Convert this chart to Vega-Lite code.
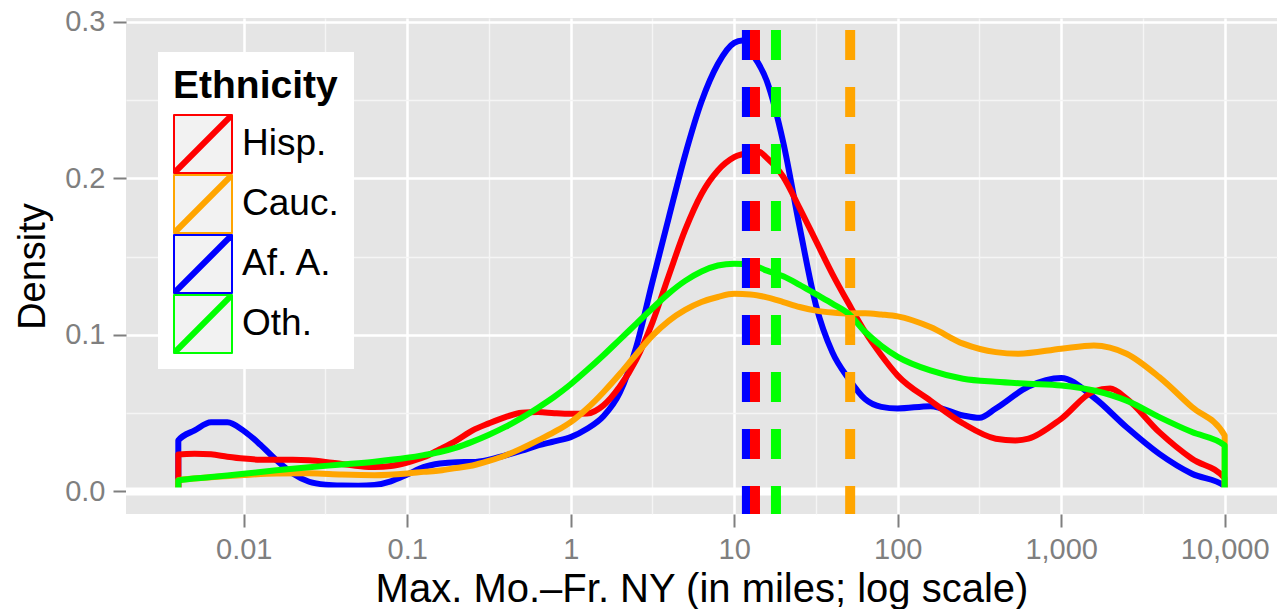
{
  "$schema": "https://vega.github.io/schema/vega-lite/v6.json",
  "width": 1151,
  "height": 496,
  "autosize": {"type": "none"},
  "padding": {"left": 126, "top": 18, "right": 1, "bottom": 95},
  "background": "white",
  "config": {
    "font": "Liberation Sans",
    "view": {"fill": "#E5E5E5", "stroke": null}
  },
  "datasets": {
    "curves": [
      {"eth": "Af. A.", "miles": 0.00398, "density": 0},
      {"eth": "Af. A.", "miles": 0.00398, "density": 0.0326},
      {"eth": "Af. A.", "miles": 0.00501, "density": 0.039},
      {"eth": "Af. A.", "miles": 0.00631, "density": 0.0442},
      {"eth": "Af. A.", "miles": 0.00794, "density": 0.0442},
      {"eth": "Af. A.", "miles": 0.01, "density": 0.0387},
      {"eth": "Af. A.", "miles": 0.01259, "density": 0.030},
      {"eth": "Af. A.", "miles": 0.01585, "density": 0.020},
      {"eth": "Af. A.", "miles": 0.01995, "density": 0.0115},
      {"eth": "Af. A.", "miles": 0.02512, "density": 0.0062},
      {"eth": "Af. A.", "miles": 0.03162, "density": 0.0043},
      {"eth": "Af. A.", "miles": 0.03981, "density": 0.0038},
      {"eth": "Af. A.", "miles": 0.05012, "density": 0.0037},
      {"eth": "Af. A.", "miles": 0.0631, "density": 0.0042},
      {"eth": "Af. A.", "miles": 0.07943, "density": 0.0065},
      {"eth": "Af. A.", "miles": 0.1, "density": 0.0108},
      {"eth": "Af. A.", "miles": 0.1259, "density": 0.0155},
      {"eth": "Af. A.", "miles": 0.1585, "density": 0.0178},
      {"eth": "Af. A.", "miles": 0.1995, "density": 0.0187},
      {"eth": "Af. A.", "miles": 0.2512, "density": 0.0188},
      {"eth": "Af. A.", "miles": 0.3162, "density": 0.0203},
      {"eth": "Af. A.", "miles": 0.3981, "density": 0.023},
      {"eth": "Af. A.", "miles": 0.5012, "density": 0.026},
      {"eth": "Af. A.", "miles": 0.631, "density": 0.0294},
      {"eth": "Af. A.", "miles": 0.7943, "density": 0.032},
      {"eth": "Af. A.", "miles": 1, "density": 0.0347},
      {"eth": "Af. A.", "miles": 1.259, "density": 0.040},
      {"eth": "Af. A.", "miles": 1.585, "density": 0.048},
      {"eth": "Af. A.", "miles": 1.995, "density": 0.063},
      {"eth": "Af. A.", "miles": 2.512, "density": 0.092},
      {"eth": "Af. A.", "miles": 3.162, "density": 0.134},
      {"eth": "Af. A.", "miles": 3.981, "density": 0.175},
      {"eth": "Af. A.", "miles": 5.012, "density": 0.215},
      {"eth": "Af. A.", "miles": 6.31, "density": 0.249},
      {"eth": "Af. A.", "miles": 7.943, "density": 0.273},
      {"eth": "Af. A.", "miles": 10, "density": 0.2865},
      {"eth": "Af. A.", "miles": 11.22, "density": 0.288},
      {"eth": "Af. A.", "miles": 12.59, "density": 0.281},
      {"eth": "Af. A.", "miles": 15.85, "density": 0.262},
      {"eth": "Af. A.", "miles": 19.95, "density": 0.223},
      {"eth": "Af. A.", "miles": 25.12, "density": 0.169},
      {"eth": "Af. A.", "miles": 31.62, "density": 0.119},
      {"eth": "Af. A.", "miles": 39.81, "density": 0.089},
      {"eth": "Af. A.", "miles": 50.12, "density": 0.072},
      {"eth": "Af. A.", "miles": 63.1, "density": 0.059},
      {"eth": "Af. A.", "miles": 79.43, "density": 0.054},
      {"eth": "Af. A.", "miles": 100, "density": 0.053},
      {"eth": "Af. A.", "miles": 158.5, "density": 0.0545},
      {"eth": "Af. A.", "miles": 251.2, "density": 0.0485},
      {"eth": "Af. A.", "miles": 316.2, "density": 0.047},
      {"eth": "Af. A.", "miles": 398.1, "density": 0.053},
      {"eth": "Af. A.", "miles": 631, "density": 0.067},
      {"eth": "Af. A.", "miles": 1000, "density": 0.0725},
      {"eth": "Af. A.", "miles": 1585, "density": 0.060},
      {"eth": "Af. A.", "miles": 2512, "density": 0.041},
      {"eth": "Af. A.", "miles": 3981, "density": 0.024},
      {"eth": "Af. A.", "miles": 6310, "density": 0.0113},
      {"eth": "Af. A.", "miles": 10000, "density": 0.0035},
      {"eth": "Af. A.", "miles": 10000, "density": 0},

      {"eth": "Hisp.", "miles": 0.00398, "density": 0},
      {"eth": "Hisp.", "miles": 0.00398, "density": 0.0236},
      {"eth": "Hisp.", "miles": 0.00501, "density": 0.0241},
      {"eth": "Hisp.", "miles": 0.00631, "density": 0.0237},
      {"eth": "Hisp.", "miles": 0.00794, "density": 0.0222},
      {"eth": "Hisp.", "miles": 0.01, "density": 0.0210},
      {"eth": "Hisp.", "miles": 0.01259, "density": 0.0203},
      {"eth": "Hisp.", "miles": 0.01585, "density": 0.0202},
      {"eth": "Hisp.", "miles": 0.01995, "density": 0.0202},
      {"eth": "Hisp.", "miles": 0.02512, "density": 0.0199},
      {"eth": "Hisp.", "miles": 0.03162, "density": 0.0189},
      {"eth": "Hisp.", "miles": 0.03981, "density": 0.0175},
      {"eth": "Hisp.", "miles": 0.05012, "density": 0.0163},
      {"eth": "Hisp.", "miles": 0.0631, "density": 0.0156},
      {"eth": "Hisp.", "miles": 0.07943, "density": 0.0163},
      {"eth": "Hisp.", "miles": 0.1, "density": 0.0185},
      {"eth": "Hisp.", "miles": 0.1259, "density": 0.0218},
      {"eth": "Hisp.", "miles": 0.1585, "density": 0.0270},
      {"eth": "Hisp.", "miles": 0.1995, "density": 0.0325},
      {"eth": "Hisp.", "miles": 0.2512, "density": 0.039},
      {"eth": "Hisp.", "miles": 0.3162, "density": 0.0435},
      {"eth": "Hisp.", "miles": 0.3981, "density": 0.0475},
      {"eth": "Hisp.", "miles": 0.5012, "density": 0.0503},
      {"eth": "Hisp.", "miles": 0.631, "density": 0.0507},
      {"eth": "Hisp.", "miles": 0.7943, "density": 0.0500},
      {"eth": "Hisp.", "miles": 1, "density": 0.0496},
      {"eth": "Hisp.", "miles": 1.259, "density": 0.0498},
      {"eth": "Hisp.", "miles": 1.585, "density": 0.055},
      {"eth": "Hisp.", "miles": 1.995, "density": 0.067},
      {"eth": "Hisp.", "miles": 2.512, "density": 0.084},
      {"eth": "Hisp.", "miles": 3.162, "density": 0.108},
      {"eth": "Hisp.", "miles": 3.981, "density": 0.138},
      {"eth": "Hisp.", "miles": 5.012, "density": 0.167},
      {"eth": "Hisp.", "miles": 6.31, "density": 0.190},
      {"eth": "Hisp.", "miles": 7.943, "density": 0.205},
      {"eth": "Hisp.", "miles": 10, "density": 0.2135},
      {"eth": "Hisp.", "miles": 12.59, "density": 0.2165},
      {"eth": "Hisp.", "miles": 14.13, "density": 0.217},
      {"eth": "Hisp.", "miles": 15.85, "density": 0.213},
      {"eth": "Hisp.", "miles": 19.95, "density": 0.201},
      {"eth": "Hisp.", "miles": 25.12, "density": 0.181},
      {"eth": "Hisp.", "miles": 31.62, "density": 0.160},
      {"eth": "Hisp.", "miles": 39.81, "density": 0.139},
      {"eth": "Hisp.", "miles": 50.12, "density": 0.120},
      {"eth": "Hisp.", "miles": 63.1, "density": 0.102},
      {"eth": "Hisp.", "miles": 79.43, "density": 0.087},
      {"eth": "Hisp.", "miles": 100, "density": 0.074},
      {"eth": "Hisp.", "miles": 158.5, "density": 0.058},
      {"eth": "Hisp.", "miles": 251.2, "density": 0.0434},
      {"eth": "Hisp.", "miles": 398.1, "density": 0.0337},
      {"eth": "Hisp.", "miles": 524.8, "density": 0.0326},
      {"eth": "Hisp.", "miles": 631, "density": 0.0337},
      {"eth": "Hisp.", "miles": 1000, "density": 0.0464},
      {"eth": "Hisp.", "miles": 1585, "density": 0.064},
      {"eth": "Hisp.", "miles": 1995, "density": 0.0657},
      {"eth": "Hisp.", "miles": 2512, "density": 0.0593},
      {"eth": "Hisp.", "miles": 3981, "density": 0.0379},
      {"eth": "Hisp.", "miles": 6310, "density": 0.0209},
      {"eth": "Hisp.", "miles": 10000, "density": 0.0085},
      {"eth": "Hisp.", "miles": 10000, "density": 0},

      {"eth": "Cauc.", "miles": 0.00398, "density": 0},
      {"eth": "Cauc.", "miles": 0.00398, "density": 0.0072},
      {"eth": "Cauc.", "miles": 0.00631, "density": 0.009},
      {"eth": "Cauc.", "miles": 0.01, "density": 0.0105},
      {"eth": "Cauc.", "miles": 0.01585, "density": 0.0115},
      {"eth": "Cauc.", "miles": 0.02512, "density": 0.0116},
      {"eth": "Cauc.", "miles": 0.03981, "density": 0.0108},
      {"eth": "Cauc.", "miles": 0.0631, "density": 0.0104},
      {"eth": "Cauc.", "miles": 0.1, "density": 0.0115},
      {"eth": "Cauc.", "miles": 0.1259, "density": 0.0125},
      {"eth": "Cauc.", "miles": 0.1585, "density": 0.0134},
      {"eth": "Cauc.", "miles": 0.1995, "density": 0.0150},
      {"eth": "Cauc.", "miles": 0.2512, "density": 0.0166},
      {"eth": "Cauc.", "miles": 0.3162, "density": 0.0195},
      {"eth": "Cauc.", "miles": 0.3981, "density": 0.023},
      {"eth": "Cauc.", "miles": 0.5012, "density": 0.0275},
      {"eth": "Cauc.", "miles": 0.631, "density": 0.0326},
      {"eth": "Cauc.", "miles": 0.7943, "density": 0.038},
      {"eth": "Cauc.", "miles": 1, "density": 0.0443},
      {"eth": "Cauc.", "miles": 1.259, "density": 0.053},
      {"eth": "Cauc.", "miles": 1.585, "density": 0.0634},
      {"eth": "Cauc.", "miles": 1.995, "density": 0.075},
      {"eth": "Cauc.", "miles": 2.512, "density": 0.0875},
      {"eth": "Cauc.", "miles": 3.162, "density": 0.0995},
      {"eth": "Cauc.", "miles": 3.981, "density": 0.109},
      {"eth": "Cauc.", "miles": 5.012, "density": 0.116},
      {"eth": "Cauc.", "miles": 6.31, "density": 0.121},
      {"eth": "Cauc.", "miles": 7.943, "density": 0.1242},
      {"eth": "Cauc.", "miles": 10, "density": 0.1262},
      {"eth": "Cauc.", "miles": 12.59, "density": 0.1258},
      {"eth": "Cauc.", "miles": 15.85, "density": 0.124},
      {"eth": "Cauc.", "miles": 19.95, "density": 0.121},
      {"eth": "Cauc.", "miles": 25.12, "density": 0.1178},
      {"eth": "Cauc.", "miles": 31.62, "density": 0.1155},
      {"eth": "Cauc.", "miles": 39.81, "density": 0.1143},
      {"eth": "Cauc.", "miles": 50.12, "density": 0.1137},
      {"eth": "Cauc.", "miles": 63.1, "density": 0.1138},
      {"eth": "Cauc.", "miles": 79.43, "density": 0.1130},
      {"eth": "Cauc.", "miles": 100, "density": 0.1118},
      {"eth": "Cauc.", "miles": 158.5, "density": 0.105},
      {"eth": "Cauc.", "miles": 251.2, "density": 0.0944},
      {"eth": "Cauc.", "miles": 398.1, "density": 0.089},
      {"eth": "Cauc.", "miles": 549.5, "density": 0.088},
      {"eth": "Cauc.", "miles": 1000, "density": 0.0912},
      {"eth": "Cauc.", "miles": 1585, "density": 0.0933},
      {"eth": "Cauc.", "miles": 2512, "density": 0.088},
      {"eth": "Cauc.", "miles": 3981, "density": 0.073},
      {"eth": "Cauc.", "miles": 6310, "density": 0.0539},
      {"eth": "Cauc.", "miles": 10000, "density": 0.0358},
      {"eth": "Cauc.", "miles": 10000, "density": 0},

      {"eth": "Oth.", "miles": 0.00398, "density": 0},
      {"eth": "Oth.", "miles": 0.00398, "density": 0.0070},
      {"eth": "Oth.", "miles": 0.00631, "density": 0.0092},
      {"eth": "Oth.", "miles": 0.01, "density": 0.0113},
      {"eth": "Oth.", "miles": 0.01585, "density": 0.0135},
      {"eth": "Oth.", "miles": 0.02512, "density": 0.0155},
      {"eth": "Oth.", "miles": 0.03981, "density": 0.0172},
      {"eth": "Oth.", "miles": 0.0631, "density": 0.0190},
      {"eth": "Oth.", "miles": 0.1, "density": 0.0215},
      {"eth": "Oth.", "miles": 0.1259, "density": 0.0232},
      {"eth": "Oth.", "miles": 0.1585, "density": 0.0252},
      {"eth": "Oth.", "miles": 0.1995, "density": 0.0280},
      {"eth": "Oth.", "miles": 0.2512, "density": 0.0318},
      {"eth": "Oth.", "miles": 0.3162, "density": 0.0362},
      {"eth": "Oth.", "miles": 0.3981, "density": 0.0412},
      {"eth": "Oth.", "miles": 0.5012, "density": 0.047},
      {"eth": "Oth.", "miles": 0.631, "density": 0.0535},
      {"eth": "Oth.", "miles": 0.7943, "density": 0.0605},
      {"eth": "Oth.", "miles": 1, "density": 0.0685},
      {"eth": "Oth.", "miles": 1.259, "density": 0.0775},
      {"eth": "Oth.", "miles": 1.585, "density": 0.087},
      {"eth": "Oth.", "miles": 1.995, "density": 0.097},
      {"eth": "Oth.", "miles": 2.512, "density": 0.107},
      {"eth": "Oth.", "miles": 3.162, "density": 0.117},
      {"eth": "Oth.", "miles": 3.981, "density": 0.1265},
      {"eth": "Oth.", "miles": 5.012, "density": 0.1345},
      {"eth": "Oth.", "miles": 6.31, "density": 0.1405},
      {"eth": "Oth.", "miles": 7.943, "density": 0.1443},
      {"eth": "Oth.", "miles": 10, "density": 0.1455},
      {"eth": "Oth.", "miles": 12.59, "density": 0.145},
      {"eth": "Oth.", "miles": 15.85, "density": 0.141},
      {"eth": "Oth.", "miles": 19.95, "density": 0.1375},
      {"eth": "Oth.", "miles": 25.12, "density": 0.132},
      {"eth": "Oth.", "miles": 31.62, "density": 0.126},
      {"eth": "Oth.", "miles": 39.81, "density": 0.120},
      {"eth": "Oth.", "miles": 50.12, "density": 0.1135},
      {"eth": "Oth.", "miles": 63.1, "density": 0.102},
      {"eth": "Oth.", "miles": 79.43, "density": 0.093},
      {"eth": "Oth.", "miles": 100, "density": 0.086},
      {"eth": "Oth.", "miles": 158.5, "density": 0.0773},
      {"eth": "Oth.", "miles": 251.2, "density": 0.072},
      {"eth": "Oth.", "miles": 398.1, "density": 0.070},
      {"eth": "Oth.", "miles": 631, "density": 0.0688},
      {"eth": "Oth.", "miles": 1000, "density": 0.0677},
      {"eth": "Oth.", "miles": 1585, "density": 0.0645},
      {"eth": "Oth.", "miles": 2512, "density": 0.058},
      {"eth": "Oth.", "miles": 3981, "density": 0.0475},
      {"eth": "Oth.", "miles": 6310, "density": 0.0379},
      {"eth": "Oth.", "miles": 10000, "density": 0.0294},
      {"eth": "Oth.", "miles": 10000, "density": 0}
    ],
    "medians": [
      {"eth": "Af. A.", "miles": 11.96},
      {"eth": "Hisp.", "miles": 13.4},
      {"eth": "Oth.", "miles": 18.0},
      {"eth": "Cauc.", "miles": 51.2}
    ],
    "baseline": [
      {"density": 0}
    ]
  },
  "layer": [
    {
      "data": {"name": "curves"},
      "mark": {"type": "line", "interpolate": "monotone", "strokeWidth": 6, "strokeJoin": "round"},
      "encoding": {
        "x": {
          "field": "miles", "type": "quantitative",
          "scale": {"type": "log", "domain": [0.001905, 20893], "nice": false},
          "axis": {
            "orient": "bottom",
            "values": [0.01, 0.1, 1, 10, 100, 1000, 10000],
            "format": ",",
            "title": "Max. Mo.–Fr. NY (in miles; log scale)",
            "grid": true, "gridColor": "white", "gridWidth": 2.5,
            "domain": false,
            "ticks": true, "tickColor": "#7F7F7F", "tickSize": 13, "tickWidth": 2,
            "labels": true,
            "labelFont": "Liberation Sans", "labelFontSize": 29, "labelColor": "#7F7F7F", "labelPadding": 8,
            "labelFlush": false, "labelOverlap": false,
            "titleFont": "Liberation Sans", "titleFontSize": 40, "titleFontWeight": "normal", "titleColor": "black",
            "titleBaseline": "alphabetic", "titleY": 87
          }
        },
        "y": {
          "field": "density", "type": "quantitative",
          "scale": {"domain": [-0.0144, 0.3024], "nice": false, "zero": false},
          "axis": {
            "orient": "left",
            "values": [0, 0.1, 0.2, 0.3],
            "format": ".1f",
            "title": "Density",
            "grid": true, "gridColor": "white", "gridWidth": 2.5,
            "domain": false,
            "ticks": true, "tickColor": "#7F7F7F", "tickSize": 13, "tickWidth": 2,
            "labels": true,
            "labelFont": "Liberation Sans", "labelFontSize": 29, "labelColor": "#7F7F7F", "labelPadding": 8,
            "labelFlush": false, "labelOverlap": false,
            "titleFont": "Liberation Sans", "titleFontSize": 38, "titleFontWeight": "normal", "titleColor": "black",
            "titleBaseline": "alphabetic", "titleX": -82
          }
        },
        "color": {
          "field": "eth", "type": "nominal",
          "scale": {"domain": ["Hisp.", "Cauc.", "Af. A.", "Oth."], "range": ["#FF0000", "#FFA500", "#0000FF", "#00FF00"]},
          "legend": {
            "title": "Ethnicity",
            "orient": "none", "legendX": 32, "legendY": 34,
            "padding": 15, "fillColor": "white", "strokeColor": null,
            "titleFont": "Liberation Sans", "titleFontSize": 39, "titleFontWeight": "bold", "titleColor": "black", "titlePadding": 8,
            "labelFont": "Liberation Sans", "labelFontSize": 37, "labelColor": "black", "labelOffset": 9,
            "symbolType": "M-1,-1H1V1H-1Z M-1,1L1,-1 M-1,0.95L0.95,-1 M-0.95,1L1,-0.95 M-1,0.9L0.9,-1 M-0.9,1L1,-0.9",
            "symbolSize": 3364, "symbolStrokeWidth": 2, "symbolFillColor": "#F2F2F2",
            "rowPadding": -6,
            "encode": {"symbols": {"update": {"strokeWidth": {"value": 2}, "strokeJoin": {"value": "round"}, "fill": {"value": "#F2F2F2"}, "opacity": {"value": 1}}}}
          }
        }
      }
    },
    {
      "data": {"name": "baseline"},
      "mark": {"type": "rule", "color": "white", "strokeWidth": 8},
      "encoding": {
        "y": {
          "field": "density", "type": "quantitative",
          "axis": {
            "orient": "right", "values": [0.05, 0.15, 0.25],
            "grid": true, "gridColor": "#F5F5F5", "gridWidth": 1.3,
            "labels": false, "ticks": false, "domain": false, "title": null
          }
        }
      }
    },
    {
      "data": {"name": "medians"},
      "mark": {"type": "rule", "strokeWidth": 10, "strokeDash": [30, 27], "strokeDashOffset": 45},
      "encoding": {
        "x": {
          "field": "miles", "type": "quantitative",
          "axis": {
            "orient": "top", "values": [0.03162, 0.3162, 3.162, 31.62, 316.2, 3162],
            "grid": true, "gridColor": "#F5F5F5", "gridWidth": 1.3,
            "labels": false, "ticks": false, "domain": false, "title": null
          }
        },
        "color": {"field": "eth", "type": "nominal", "legend": null}
      }
    }
  ]
}
